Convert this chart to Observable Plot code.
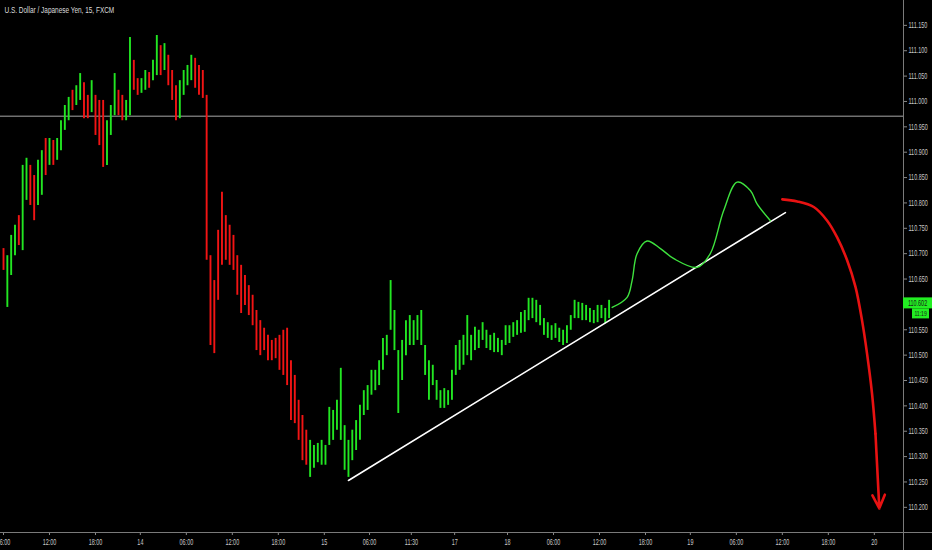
<!DOCTYPE html>
<html><head><meta charset="utf-8">
<script src="https://cdn.jsdelivr.net/npm/d3@7"></script>
<script src="https://cdn.jsdelivr.net/npm/@observablehq/plot@0.6"></script>
<style>
html,body{margin:0;padding:0;background:#000;overflow:hidden;}
#chart{width:932px;height:550px;}
</style></head><body><div id="chart"></div>
<script>
const title = "U.S. Dollar / Japanese Yen, 15, FXCM";

// 30-minute bars (index = bar slot), high / low prices
const barHigh = [
 110.710,110.696,110.736,110.756,110.775,110.874,110.888,110.874,110.854,110.884,
 110.903,110.927,110.927,110.923,110.927,110.962,110.992,111.008,111.022,111.031,
 111.055,111.037,111.012,111.041,111.012,111.002,111.002,110.962,110.992,111.055,
 111.022,111.012,111.002,111.126,111.081,111.045,111.045,111.061,111.057,111.081,
 111.130,111.110,111.114,111.091,111.061,111.031,111.041,111.061,111.071,111.091,
 111.085,111.071,111.061,111.012,110.696,110.647,110.746,110.821,110.775,110.756,
 110.736,110.696,110.677,110.657,110.637,110.618,110.588,110.568,110.553,110.539,
 110.529,110.533,110.539,110.549,110.553,110.489,110.460,110.411,110.381,110.352,
 110.332,110.322,110.326,110.332,110.322,110.397,110.391,110.411,110.474,110.361,
 110.332,110.352,110.371,110.401,110.430,110.440,110.470,110.470,110.489,110.533,
 110.539,110.647,110.588,110.509,110.529,110.568,110.578,110.568,110.578,110.588,
 110.519,110.489,110.480,110.450,110.430,110.434,110.430,110.470,110.519,110.529,
 110.539,110.578,110.539,110.555,110.549,110.564,110.549,110.539,110.543,110.533,
 110.529,110.558,110.558,110.564,110.568,110.584,110.588,110.612,110.612,110.608,
 110.598,110.572,110.564,110.558,110.562,110.553,110.549,110.558,110.578,110.608,
 110.604,110.602,110.598,110.592,110.588,110.598,110.598,110.592,110.608
];
const barLow = [
 110.667,110.594,110.657,110.696,110.716,110.706,110.805,110.795,110.765,110.795,
 110.815,110.854,110.874,110.874,110.884,110.903,110.943,110.962,110.982,110.992,
 111.002,110.966,110.966,110.978,110.933,110.913,110.870,110.874,110.933,110.972,
 110.972,110.962,110.962,110.972,111.022,111.012,111.016,111.022,111.026,111.041,
 111.051,111.051,111.061,111.031,111.002,110.962,110.966,111.012,111.031,111.041,
 111.026,111.012,111.006,110.687,110.519,110.503,110.608,110.677,110.687,110.677,
 110.667,110.618,110.582,110.598,110.578,110.558,110.509,110.499,110.509,110.489,
 110.489,110.493,110.470,110.460,110.440,110.371,110.365,110.332,110.292,110.283,
 110.259,110.277,110.288,110.283,110.283,110.322,110.332,110.352,110.332,110.273,
 110.259,110.292,110.312,110.332,110.381,110.391,110.421,110.430,110.440,110.470,
 110.499,110.549,110.509,110.385,110.450,110.499,110.519,110.519,110.529,110.519,
 110.460,110.411,110.440,110.411,110.395,110.395,110.401,110.411,110.460,110.470,
 110.480,110.499,110.489,110.509,110.513,110.529,110.513,110.509,110.505,110.505,
 110.499,110.519,110.523,110.535,110.539,110.543,110.545,110.568,110.572,110.564,
 110.558,110.539,110.533,110.529,110.533,110.525,110.519,110.523,110.549,110.572,
 110.572,110.568,110.568,110.564,110.562,110.564,110.572,110.562,110.572
];
// bar colour: g = up (green), r = down (red)
const barDir = (
 "rgggrggrrg" + "grgrggggrg" + "grrgrrrggg" + "rrggrrggrg" + "grgrrrgggg" + "rrr" +
 "rrrrrrrrrr" + "rrrrrrrrrr" + "rrrrrrr" +
 "gggggggggg" + "gggggggggg" + "gggggggggg" + "gggggggggg" +
 "gggggggggg" + "gggggggggg" + "gggggggggg" + "ggggggggg"
).split("");

// price-scale labels visible in the reference (110.600 is hidden by the last-price tag)
const yTicks = [110.20,110.25,110.30,110.35,110.40,110.45,110.50,110.55,110.65,
                110.70,110.75,110.80,110.85,110.90,110.95,111.00,111.05,111.10,111.15];
const xTickPos = [0,12,24,35.7,47.7,59.7,71.7,83.7,95.5,106.4,117.7,131.5,143.5,155.5,167.5,179.2,191.2,203.2,215.2,227.2];
const xTickLabels = ["06:00","12:00","18:00","14","06:00","12:00","18:00","15","06:00","11:30","17","18","06:00","12:00","18:00","19","06:00","12:00","18:00","20"];

const refLevel = 110.971;
const trendX = [90.0, 204.0];
const trendP = [110.253, 110.781];
const projX = [158.8,162.7,164.0,165.3,167.9,171.4,174.9,181.0,184.4,187.9,191.4,194.9,196.6,200.1];
const projP = [110.594,110.614,110.647,110.700,110.725,110.710,110.690,110.673,110.700,110.785,110.841,110.824,110.798,110.765];
const dropX = [203.2,207.1,211.4,214.9,217.5,220.1,222.3,224.0,225.3,226.6,227.5];
const dropP = [110.807,110.803,110.792,110.765,110.732,110.687,110.634,110.568,110.503,110.424,110.345];
const arrowX = [227.5, 228.5];
const arrowP = [110.345, 110.198];
const lastPrice = 110.602;
const lastLabel = "110.602";
const countdown = "11:19";

const bars = barHigh.map((h, i) => ({i, hi: h, lo: barLow[i], dir: barDir[i]}));
const trend = trendX.map((x, k) => ({x, y: trendP[k]}));
const proj = projX.map((x, k) => ({x, y: projP[k]}));
const drop = dropX.map((x, k) => ({x, y: dropP[k]}));
const labelMap = new Map(xTickPos.map((p, k) => [p, xTickLabels[k]]));

const FONT = '"Liberation Sans","Arial",sans-serif';

const plot = Plot.plot({
  width: 932, height: 550,
  marginLeft: 0, marginRight: 29, marginTop: 0, marginBottom: 18,
  style: {background: "#000", color: "#c8c8c8", fontFamily: FONT, fontSize: "8.5px"},
  x: {domain: [-0.783, 234.81]},
  y: {domain: [110.1504, 111.199]},
  marks: [
    Plot.ruleY([refLevel], {stroke: "#a8a8a8", strokeWidth: 1}),
    Plot.ruleX(bars, {x: "i", y1: "lo", y2: "hi", stroke: d => d.dir === "g" ? "#22e622" : "#f21414", strokeWidth: 1.9}),
    Plot.line(trend, {x: "x", y: "y", stroke: "#ffffff", strokeWidth: 1.6}),
    Plot.line(proj, {x: "x", y: "y", curve: "catmull-rom", stroke: "#3ee23e", strokeWidth: 1.4}),
    Plot.line(drop, {x: "x", y: "y", curve: "catmull-rom", stroke: "#e81212", strokeWidth: 2.6}),
    Plot.arrow([0], {x1: () => arrowX[0], y1: () => arrowP[0], x2: () => arrowX[1], y2: () => arrowP[1],
      stroke: "#e81212", strokeWidth: 2.6, headLength: 8.5, headAngle: 50}),
    Plot.axisY({anchor: "right", ticks: yTicks, tickFormat: d3.format(".3f"), tickSize: 3, tickPadding: 2,
      stroke: "#888", fill: "#c8c8c8", fontSize: 8.5}),
    Plot.axisX({ticks: xTickPos, tickFormat: d => labelMap.get(d), tickSize: 3, tickPadding: 3,
      stroke: "#888", fill: "#c8c8c8", fontSize: 8.5}),
    Plot.text([title], {frameAnchor: "top-left", dx: 4, dy: 6, fill: "#dcdcdc", fontSize: 9.5, textAnchor: "start", lineAnchor: "top"})
  ]
});

const svg = d3.select(plot);
// chart frame lines (price scale / time scale borders)
svg.append("line").attr("x1", 903.5).attr("x2", 903.5).attr("y1", 0).attr("y2", 550).attr("stroke", "#7a7a7a");
svg.append("line").attr("x1", 0).attr("x2", 932).attr("y1", 532.5).attr("y2", 532.5).attr("stroke", "#7a7a7a");
// last price marker
const yLast = plot.scale("y").apply(lastPrice);
svg.append("rect").attr("x", 903).attr("y", yLast - 5.5).attr("width", 29).attr("height", 11).attr("fill", "#22ee22");
svg.append("text").attr("x", 917.5).attr("y", yLast + 3).attr("text-anchor", "middle")
  .attr("font-family", FONT).attr("font-size", 8.5).attr("fill", "#1a1a1a").text(lastLabel);
svg.append("rect").attr("x", 912).attr("y", yLast + 5.5).attr("width", 17).attr("height", 10).attr("fill", "#22ee22");
svg.append("text").attr("x", 920.5).attr("y", yLast + 13.5).attr("text-anchor", "middle")
  .attr("font-family", FONT).attr("font-size", 8).attr("fill", "#1a1a1a").text(countdown);

document.getElementById("chart").appendChild(plot);

// narrow the texts horizontally (the reference uses a condensed face)
svg.selectAll("text").each(function () {
  const b = this.getBBox();
  if (!b.width) return;
  const s = this.textContent === title ? 110 / b.width : 0.64;
  const anchor = getComputedStyle(this).textAnchor;
  const ax = anchor === "middle" ? b.x + b.width / 2 : anchor === "end" ? b.x + b.width : b.x;
  const prev = this.getAttribute("transform") || "";
  this.setAttribute("transform", `${prev} translate(${ax.toFixed(2)},0) scale(${s.toFixed(4)},1) translate(${(-ax).toFixed(2)},0)`.trim());
});
</script>
</body></html>
